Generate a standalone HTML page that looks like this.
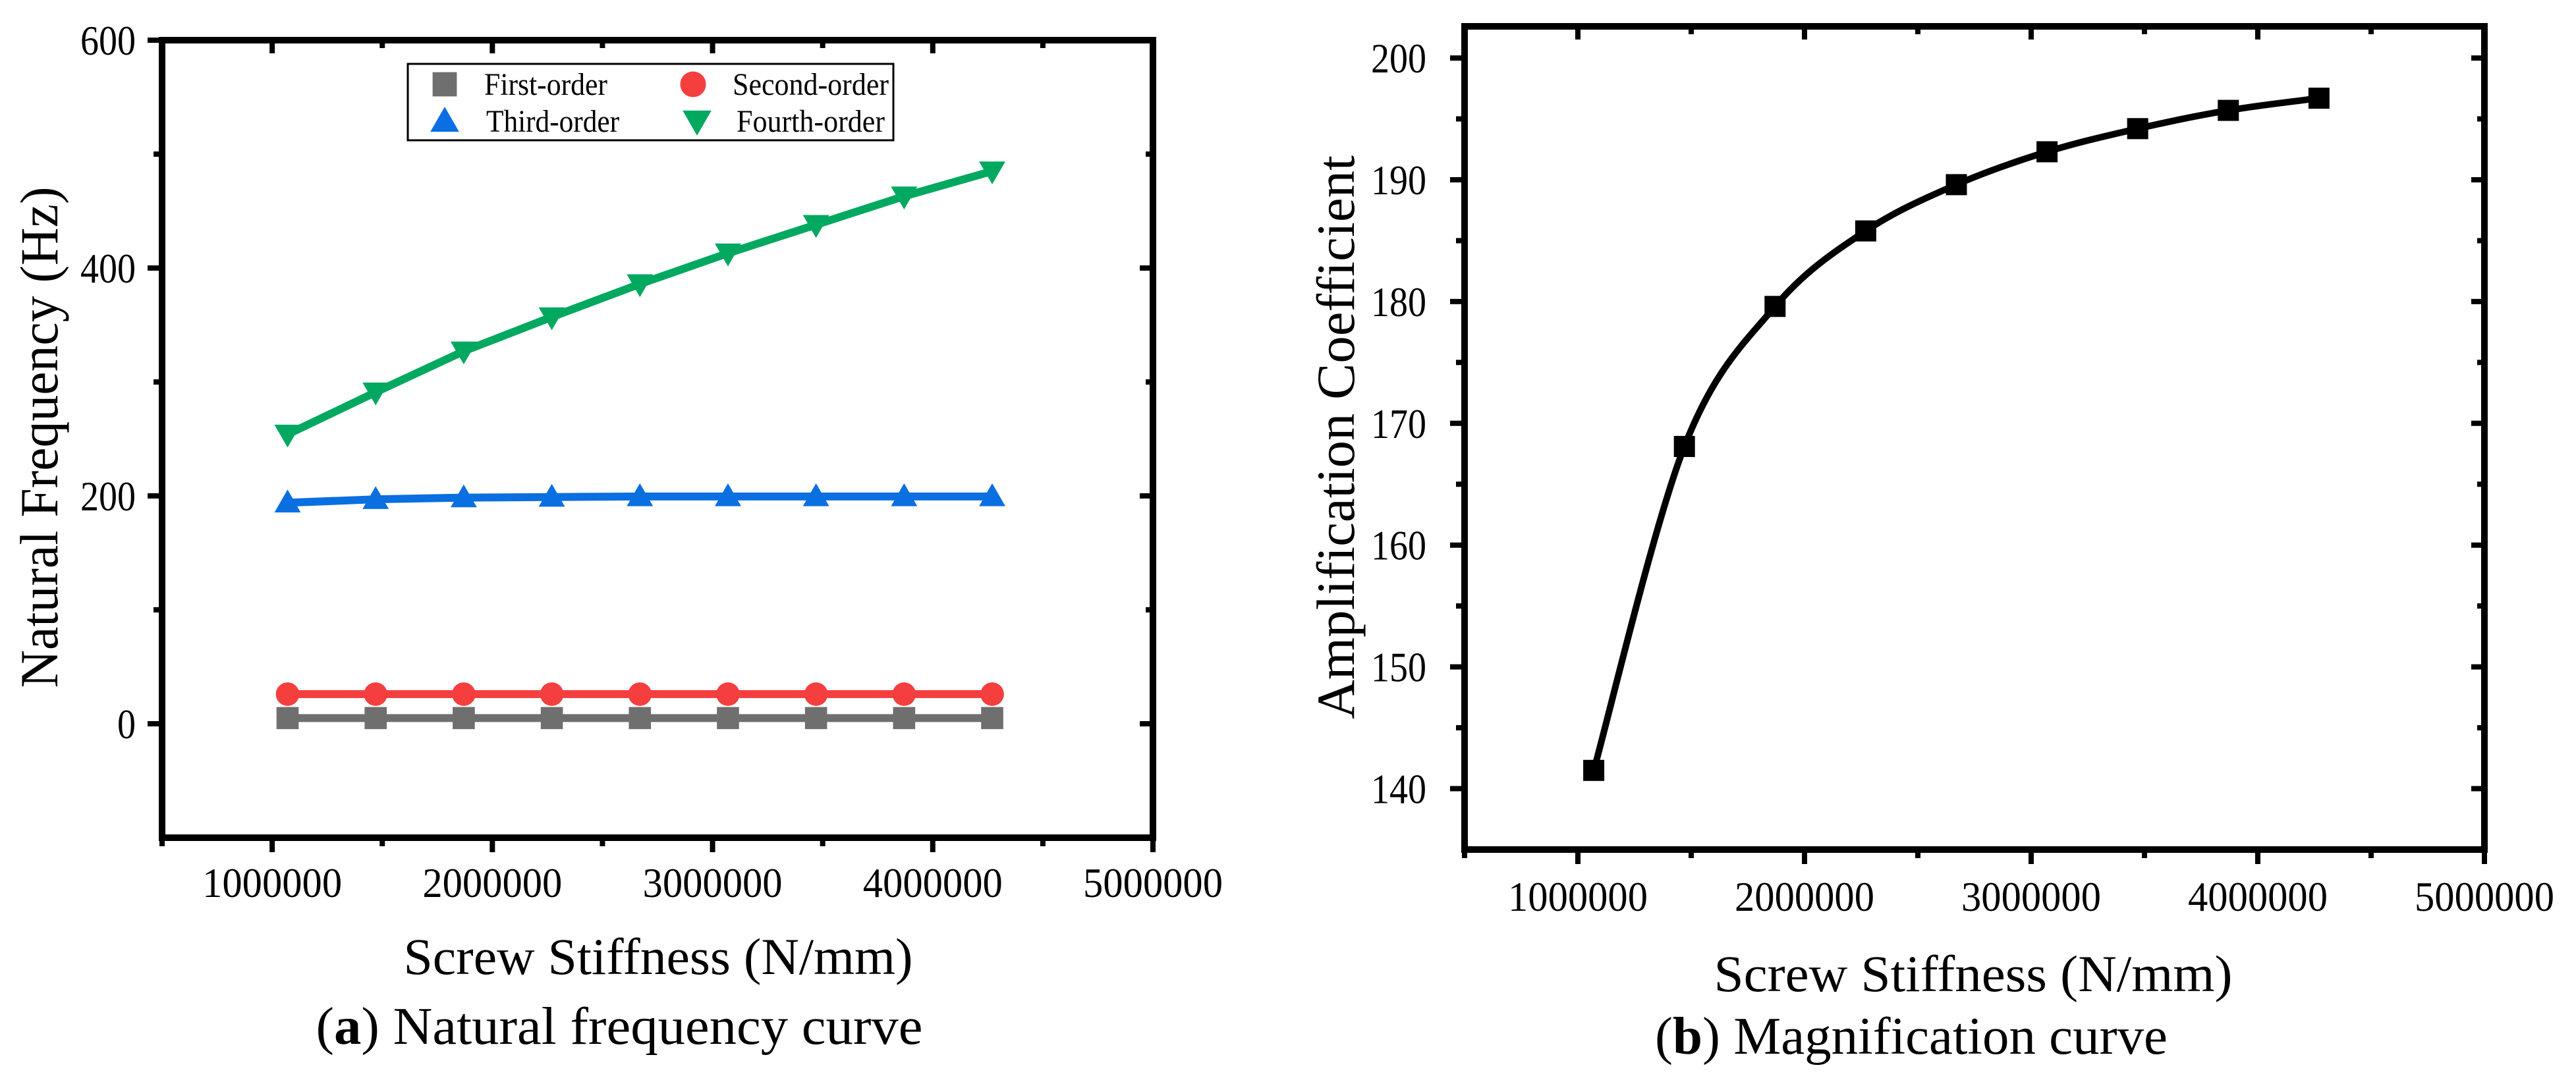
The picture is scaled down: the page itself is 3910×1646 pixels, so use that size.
<!DOCTYPE html>
<html><head><meta charset="utf-8"><style>
html,body{margin:0;padding:0;background:#fff;}
svg{display:block;font-family:"Liberation Serif",serif;}
</style></head><body>
<svg id="fig" width="3910" height="1646" viewBox="0 0 3910 1646"></svg>
<script>
const xValues = [1070000,1470000,1870000,2270000,2670000,3070000,3470000,3870000,4270000];
const firstOrder = [5,5,5,5,5,5,5,5,5];
const secondOrder = [26,26,26,26,26,26,26,26,26];
const thirdOrder = [194,197,198.5,199,199.5,199.5,199.5,199.5,199.5];
const fourthOrder = [254,291,327,357,386,413,438,463,485];
const ampCoef = [141.5,168.1,179.6,185.8,189.6,192.3,194.2,195.7,196.7];
const xTicks = [1000000,2000000,3000000,4000000,5000000];
const leftYTicks = [0,200,400,600];
const rightYTicks = [140,150,160,170,180,190,200];

const NS='http://www.w3.org/2000/svg';
const svg=document.getElementById('fig');
function el(tag,attrs,parent){const e=document.createElementNS(NS,tag);for(const k in attrs)e.setAttribute(k,attrs[k]);(parent||svg).appendChild(e);return e;}
function txt(s,attrs,parent){const t=el('text',attrs,parent);t.textContent=s;return t;}

function axes(cfg){
  const g=el('g',{});
  
  
  const X=v=>cfg.x0+(v-cfg.xmin)/(cfg.xmax-cfg.xmin)*(cfg.x1-cfg.x0);
  const Y=v=>cfg.y1-(v-cfg.ymin)/(cfg.ymax-cfg.ymin)*(cfg.y1-cfg.y0);
  for(let v=cfg.xmin; v<=cfg.xmax+1; v+=500000){
    const major = Math.abs(v/1000000-Math.round(v/1000000))<1e-6;
    const L = major?22:13, Li = major?20:12;
    el('line',{x1:X(v),x2:X(v),y1:cfg.y1,y2:cfg.y1+L,stroke:'#000','stroke-width':8},g);
    el('line',{x1:X(v),x2:X(v),y1:cfg.y0,y2:cfg.y0+Li,stroke:'#000','stroke-width':8},g);
  }
  for(let v=cfg.yminTick; v<=cfg.ymax+1e-6; v+=cfg.yminor){
    const major = Math.abs(((v-cfg.yminTick)/cfg.ymajor)-Math.round((v-cfg.yminTick)/cfg.ymajor))<1e-6;
    const L = major?22:13;
    el('line',{x1:cfg.x0-L,x2:cfg.x0,y1:Y(v),y2:Y(v),stroke:'#000','stroke-width':8},g);
    el('line',{x1:cfg.x1-L+2,x2:cfg.x1,y1:Y(v),y2:Y(v),stroke:'#000','stroke-width':8},g);
  }
  el('rect',{x:cfg.x0,y:cfg.y0,width:cfg.x1-cfg.x0,height:cfg.y1-cfg.y0,fill:'none',stroke:'#000','stroke-width':10},g);
  xTicks.forEach(v=>{
    const t=txt(String(v),{x:X(v),y:cfg.xlabY,'font-size':64,'text-anchor':'middle',textLength:212,lengthAdjust:'spacingAndGlyphs'},g);
    
    
  });
  cfg.yTicks.forEach(v=>{
    const s=String(v);
    const t=txt(s,{x:cfg.ylabX,y:Y(v)+22,'font-size':64,'text-anchor':'end',textLength:s.length*28,lengthAdjust:'spacingAndGlyphs'},g);
    
    
  });
  return {X,Y,g};
}

const A=axes({name:'natural-frequency-chart',x0:246,x1:1750,y0:61,y1:1272,xmin:500000,xmax:5000000,ymin:-100,ymax:600,yminTick:0,ymajor:200,yminor:100,yTicks:leftYTicks,xlabY:1362,ylabX:206});
const series=[
  {name:'first-order',vals:firstOrder,color:'#6f6f6f',m:'square'},
  {name:'second-order',vals:secondOrder,color:'#f53f3f',m:'circle'},
  {name:'third-order',vals:thirdOrder,color:'#0a6fe0',m:'up'},
  {name:'fourth-order',vals:fourthOrder,color:'#00a860',m:'down'}
];
function marker(type,x,y,color,parent,s){
  s=s||1;
  let e;
  if(type==='square') e=el('rect',{x:x-16*s,y:y-16*s,width:32*s,height:32*s,fill:color},parent);
  else if(type==='circle') e=el('circle',{cx:x,cy:y,r:17*s,fill:color},parent);
  else if(type==='up') e=el('polygon',{points:`${x},${y-19*s} ${x+19*s},${y+14*s} ${x-19*s},${y+14*s}`,fill:color},parent);
  else e=el('polygon',{points:`${x-19*s},${y-14*s} ${x+19*s},${y-14*s} ${x},${y+19*s}`,fill:color},parent);
  return e;
}
series.forEach(s=>{
  const g=el('g',{},A.g);
  
  
  const pts=xValues.map((x,i)=>A.X(x)+','+A.Y(s.vals[i])).join(' ');
  el('polyline',{points:pts,fill:'none',stroke:s.color,'stroke-width':12,'stroke-linejoin':'round'},g);
  xValues.forEach((x,i)=>{
    const m=marker(s.m,A.X(x),A.Y(s.vals[i]),s.color,g,1.05);
    
    
  });
});
const lg=el('g',{});


el('rect',{x:619,y:97,width:737,height:116,fill:'#fff',stroke:'#000','stroke-width':3},lg);
const legendItems=[
  ['First-order','square','#6f6f6f',675,128,735,187],
  ['Second-order','circle','#f53f3f',1052,128,1112,237],
  ['Third-order','up','#0a6fe0',675,184,738,202],
  ['Fourth-order','down','#00a860',1058,184,1118,225]
];
legendItems.forEach(it=>{
  const g=el('g',{},lg);
  
  
  marker(it[1],it[3],it[4],it[2],g,1.15);
  txt(it[0],{x:it[5],y:it[4]+16,'font-size':48,textLength:it[6],lengthAdjust:'spacingAndGlyphs'},g);
});
let t;
t=txt('Natural Frequency (Hz)',{x:0,y:0,'font-size':82,'text-anchor':'middle',textLength:761,lengthAdjust:'spacingAndGlyphs',transform:'translate(87,664) rotate(-90)'});


t=txt('Screw Stiffness (N/mm)',{x:999,y:1479,'font-size':78,'text-anchor':'middle',textLength:773,lengthAdjust:'spacingAndGlyphs'});


t=el('text',{x:940,y:1585,'font-size':80,'text-anchor':'middle',textLength:921,lengthAdjust:'spacingAndGlyphs'});
t.innerHTML='(<tspan font-weight="bold">a</tspan>) Natural frequency curve';



const B=axes({name:'magnification-chart',x0:2223,x1:3771,y0:40,y1:1290,xmin:500000,xmax:5000000,ymin:135,ymax:202.6,yminTick:140,ymajor:10,yminor:5,yTicks:rightYTicks,xlabY:1383,ylabX:2165});
{
  const g=el('g',{},B.g);
  
  
  const P=xValues.map((x,i)=>[B.X(x),B.Y(ampCoef[i])]);
  let d='M'+P[0][0]+','+P[0][1];
  for(let i=0;i<P.length-1;i++){
    const p0=P[Math.max(0,i-1)],p1=P[i],p2=P[i+1],p3=P[Math.min(P.length-1,i+2)];
    const c1=[p1[0]+(p2[0]-p0[0])/6,p1[1]+(p2[1]-p0[1])/6];
    const c2=[p2[0]-(p3[0]-p1[0])/6,p2[1]-(p3[1]-p1[1])/6];
    d+=` C${c1[0]},${c1[1]} ${c2[0]},${c2[1]} ${p2[0]},${p2[1]}`;
  }
  el('path',{d:d,fill:'none',stroke:'#000','stroke-width':10},g);
  P.forEach(p=>{
    const m=el('rect',{x:p[0]-16,y:p[1]-16,width:32,height:32,fill:'#000'},g);
    
    
  });
}
t=txt('Amplification Coefficient',{x:0,y:0,'font-size':82,'text-anchor':'middle',textLength:856,lengthAdjust:'spacingAndGlyphs',transform:'translate(2055,664) rotate(-90)'});


t=txt('Screw Stiffness (N/mm)',{x:2995,y:1505,'font-size':78,'text-anchor':'middle',textLength:787,lengthAdjust:'spacingAndGlyphs'});


t=el('text',{x:2901,y:1600,'font-size':80,'text-anchor':'middle',textLength:778,lengthAdjust:'spacingAndGlyphs'});
t.innerHTML='(<tspan font-weight="bold">b</tspan>) Magnification curve';


</script>
</body></html>
